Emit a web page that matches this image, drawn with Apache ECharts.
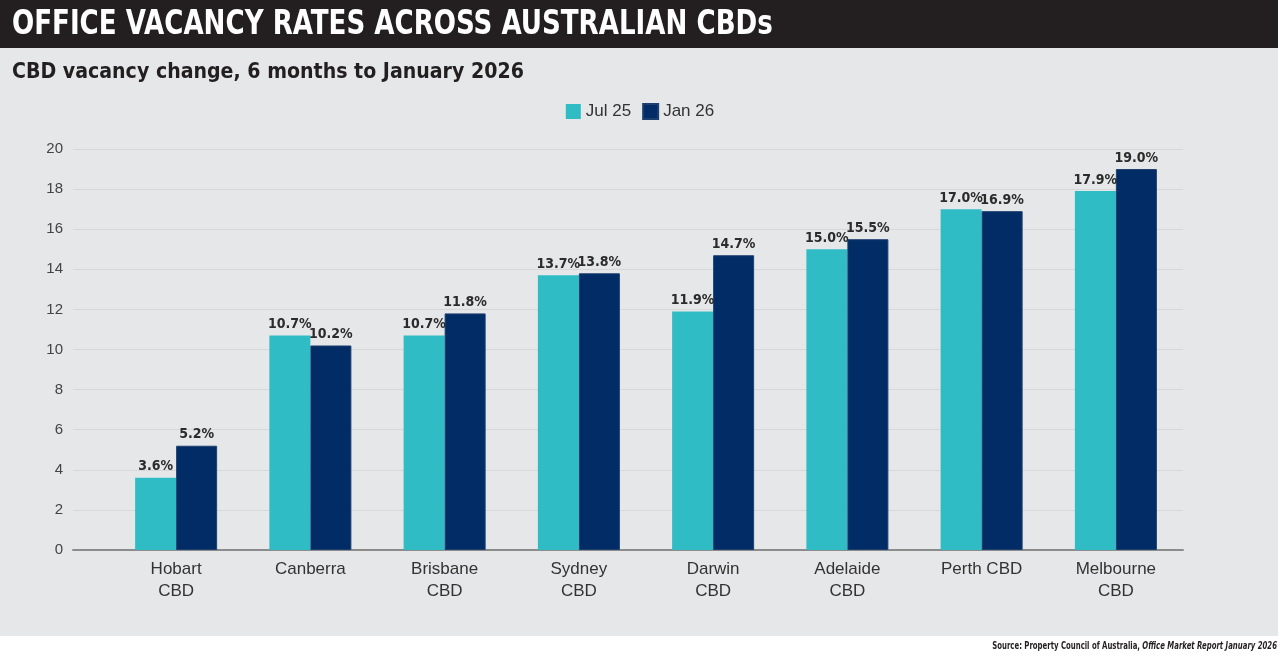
<!DOCTYPE html>
<html>
<head>
<meta charset="utf-8">
<script src="https://cdn.jsdelivr.net/npm/echarts@6/dist/echarts.min.js"></script>
<style>
  html, body { margin: 0; padding: 0; background: #fff; }
  #chart { width: 1280px; height: 659px; }
</style>
</head>
<body>
<div id="chart"></div>
<script>
// data
var cities = ['Hobart\nCBD', 'Canberra', 'Brisbane\nCBD', 'Sydney\nCBD', 'Darwin\nCBD', 'Adelaide\nCBD', 'Perth CBD', 'Melbourne\nCBD'];
var jul25 = [3.6, 10.7, 10.7, 13.7, 11.9, 15.0, 17.0, 17.9];
var jan26 = [5.2, 10.2, 11.8, 13.8, 14.7, 15.5, 16.9, 19.0];
var seriesNames = ['Jul 25', 'Jan 26'];
var yTicks = { min: 0, max: 20, step: 2 };

var cyan = '#2fbcc4';
var navy = '#012c66';
var condFont = '"DejaVu Sans Condensed", sans-serif';

var chart = echarts.init(document.getElementById('chart'));

var barLabel = {
  show: true,
  position: 'top',
  distance: 4,
  color: '#2b2b2b',
  fontFamily: condFont,
  fontWeight: 'bold',
  fontSize: 14,
  formatter: function (p) { return p.value.toFixed(1) + '%'; }
};

chart.setOption({
  backgroundColor: '#fff',
  animation: false,
  graphic: [
    { type: 'rect', left: 0, top: 48, shape: { width: 1278, height: 588 }, style: { fill: '#e6e7e8' }, z: -10 },
    { type: 'rect', left: 0, top: 0, shape: { width: 1278, height: 48 }, style: { fill: '#231f20' }, z: -10 },
    {
      type: 'text', x: 12, y: 25, scaleX: 0.88,
      style: {
        text: 'OFFICE VACANCY RATES ACROSS AUSTRALIAN CBDs',
        fill: '#fff', fontFamily: condFont, fontWeight: 'bold', fontSize: 33,
        textVerticalAlign: 'middle'
      }
    },
    {
      type: 'text', x: 12, y: 72, scaleX: 0.96,
      style: {
        text: 'CBD vacancy change, 6 months to January 2026',
        fill: '#231f20', fontFamily: condFont, fontWeight: 'bold', fontSize: 22,
        textVerticalAlign: 'middle'
      }
    },
    {
      type: 'text', x: 1277, y: 646, scaleX: 0.7,
      style: {
        text: '{a|Source: Property Council of Australia, }{b|Office Market Report January 2026}',
        textAlign: 'right', textVerticalAlign: 'middle',
        rich: {
          a: { fill: '#231f20', fontFamily: condFont, fontWeight: 'bold', fontSize: 11 },
          b: { fill: '#231f20', fontFamily: condFont, fontWeight: 'bold', fontStyle: 'italic', fontSize: 11 }
        }
      }
    }
  ],
  legend: {
    data: seriesNames,
    top: 98,
    left: 'center',
    itemWidth: 15,
    itemHeight: 15,
    itemGap: 11,
    icon: 'rect',
    textStyle: { color: '#333', fontSize: 17, fontFamily: 'Liberation Sans, sans-serif' }
  },
  grid: [
    { left: 73, right: 97, top: 149, bottom: 109 },
    { left: 109, right: 97, top: 149, bottom: 109 }
  ],
  xAxis: [
    {
      type: 'value', gridIndex: 0, min: 0, max: 1,
      axisLine: { show: true, lineStyle: { color: '#8c8c8c', width: 2 } },
      axisTick: { show: false }, axisLabel: { show: false }, splitLine: { show: false }
    },
    {
      type: 'category', gridIndex: 1, data: cities,
      axisLine: { show: false }, axisTick: { show: false },
      axisLabel: {
        color: '#333', fontSize: 17, lineHeight: 22, margin: 8,
        fontFamily: 'Liberation Sans, sans-serif', interval: 0
      }
    }
  ],
  yAxis: [
    {
      type: 'value', gridIndex: 0,
      min: yTicks.min, max: yTicks.max, interval: yTicks.step,
      axisLine: { show: false }, axisTick: { show: false },
      axisLabel: { color: '#444', fontSize: 15, margin: 10, fontFamily: 'Liberation Sans, sans-serif' },
      splitLine: { lineStyle: { color: '#d6d7d8', width: 1 } }
    },
    {
      type: 'value', gridIndex: 1,
      min: yTicks.min, max: yTicks.max, interval: yTicks.step,
      show: false
    }
  ],
  series: [
    {
      name: seriesNames[0], type: 'bar', xAxisIndex: 1, yAxisIndex: 1,
      data: jul25, barWidth: 41, barGap: '0%',
      itemStyle: { color: cyan },
      label: barLabel
    },
    {
      name: seriesNames[1], type: 'bar', xAxisIndex: 1, yAxisIndex: 1,
      data: jan26, barWidth: 41, barGap: '0%',
      itemStyle: { color: navy, borderColor: '#1d3f70', borderWidth: 1 },
      label: barLabel
    }
  ]
});
</script>
</body>
</html>
